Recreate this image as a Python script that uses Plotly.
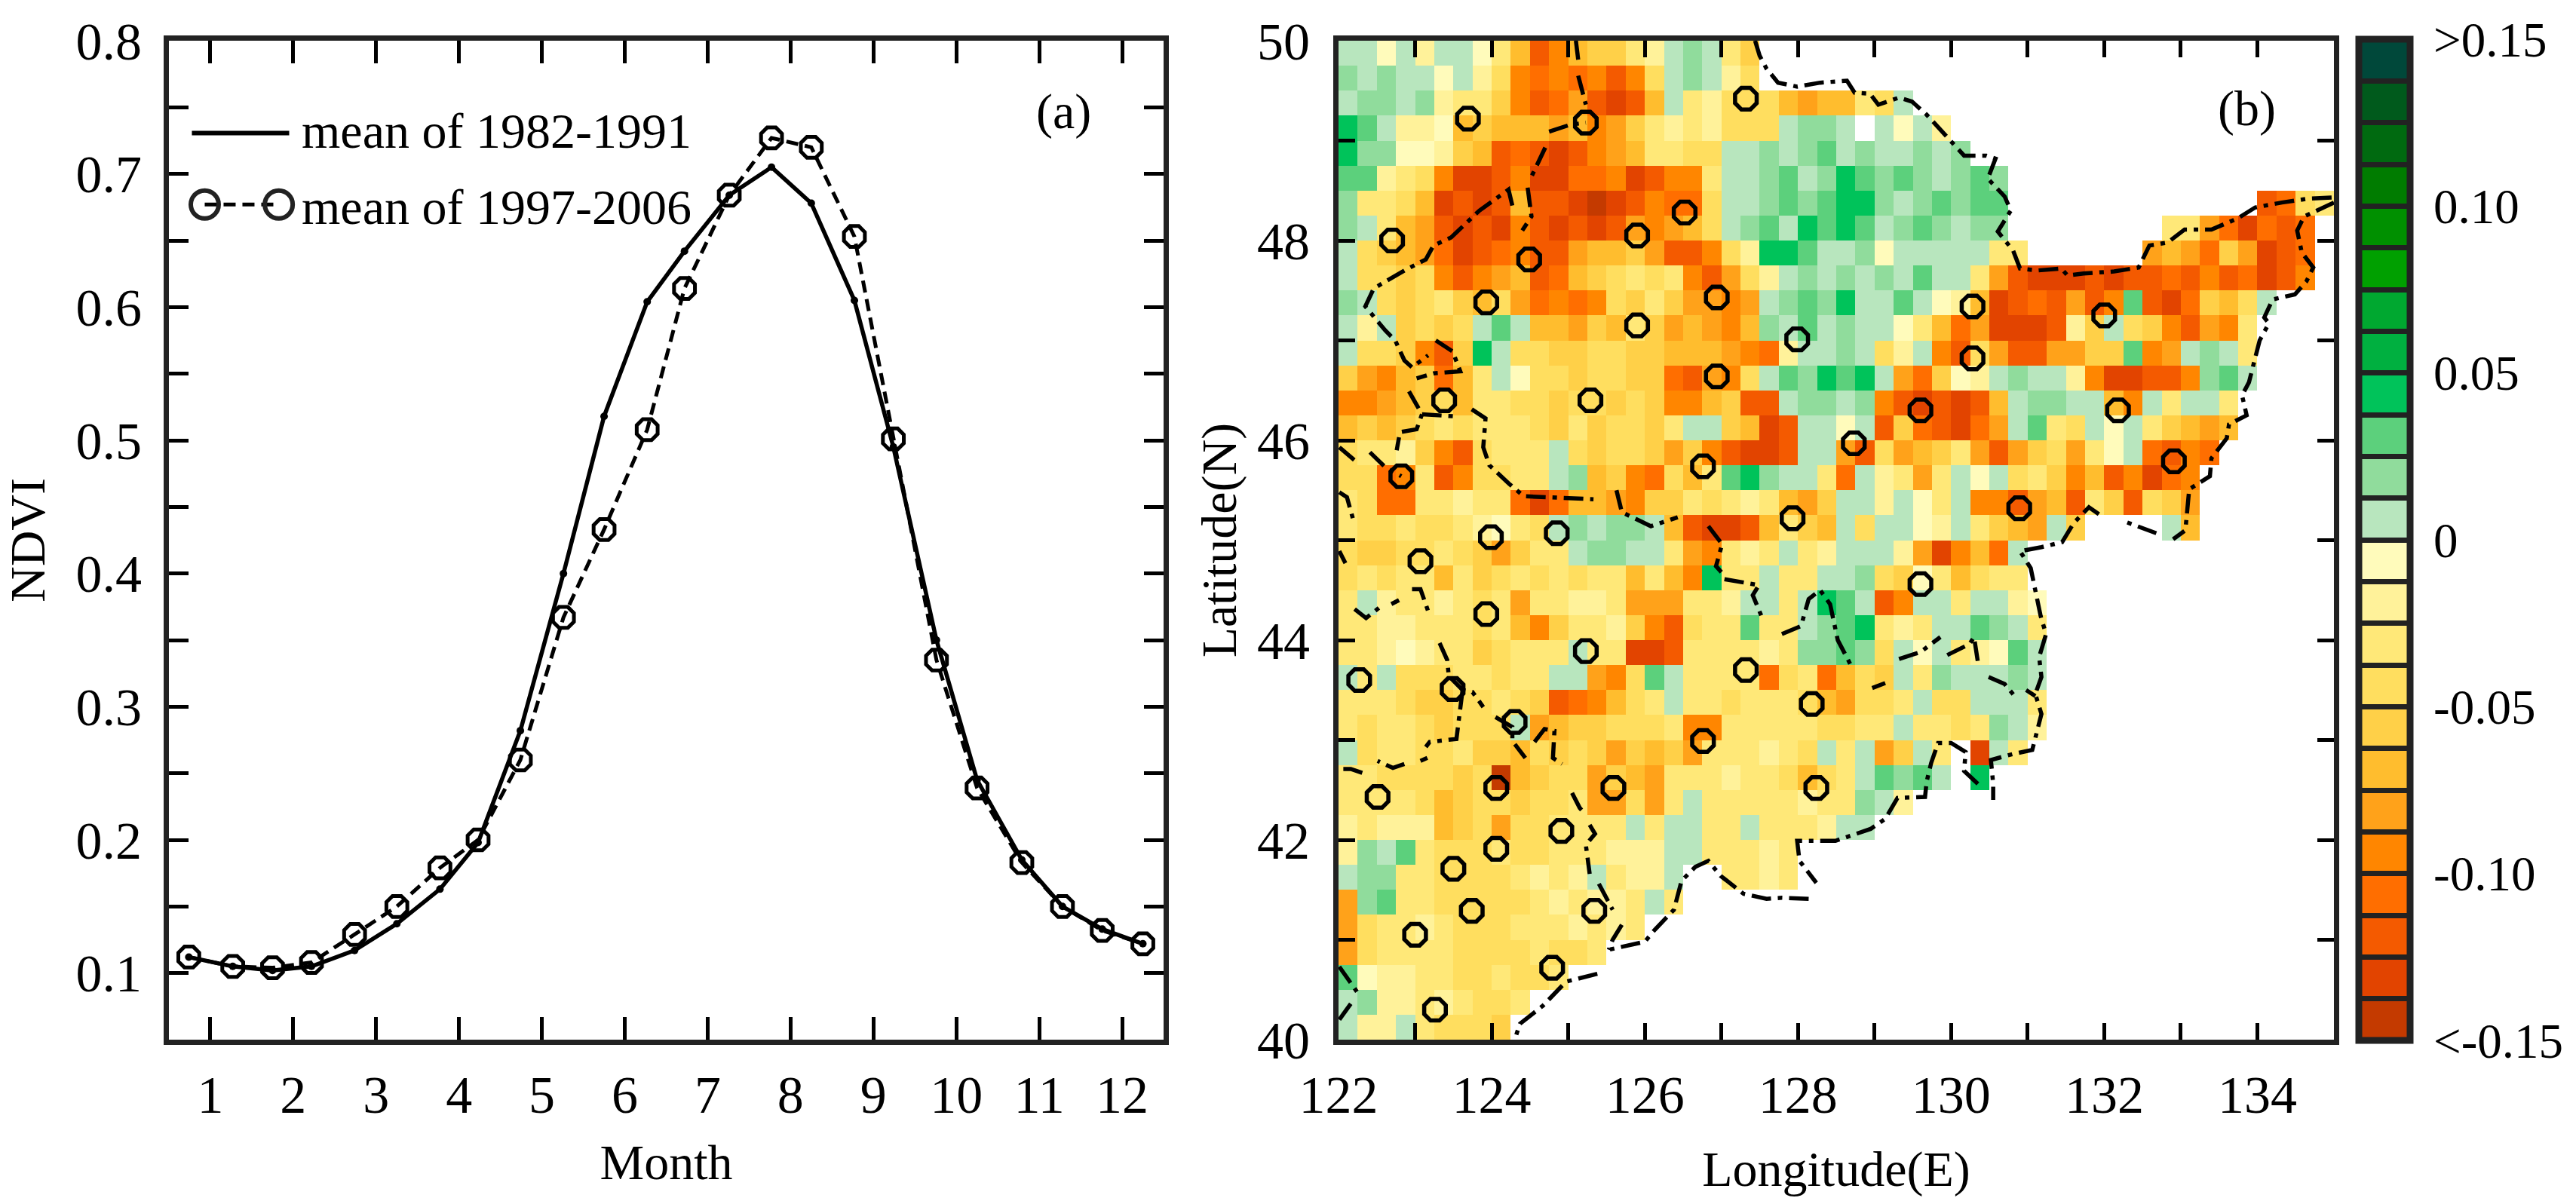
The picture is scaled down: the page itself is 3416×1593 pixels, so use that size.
import plotly.graph_objects as go

FONT = "Liberation Serif"
W, H = 3416, 1593

# ---------- panel (a) ----------
months_pts = [0.74,1.27,1.75,2.22,2.74,3.25,3.77,4.23,4.74,5.26,5.75,6.27,
              6.72,7.26,7.77,8.25,8.77,9.24,9.76,10.25,10.79,11.28,11.76,12.25]
ndvi_1982_1991 = [.112,.105,.102,.105,.117,.137,.163,.198,.282,.400,.518,.604,
                  .642,.684,.705,.678,.605,.495,.350,.245,.185,.150,.133,.122]
ndvi_1997_2006 = [.112,.105,.104,.108,.129,.150,.179,.200,.260,.367,.433,.508,
                  .614,.684,.727,.720,.653,.501,.335,.239,.183,.150,.132,.122]
month_ticks = list(range(1, 13))
ndvi_ticks = [0.05,0.1,0.15,0.2,0.25,0.3,0.35,0.4,0.45,0.5,0.55,0.6,0.65,0.7,0.75,0.8]
ndvi_labels = ["","0.1","","0.2","","0.3","","0.4","","0.5","","0.6","","0.7","","0.8"]

# ---------- panel (b): NDVI change class per 0.25 degree cell ----------
# '1'..'9','x','y','z' = warm classes, light to dark; 'a','b','c','d' = green classes; '.' = no data
WEST_ROWS = [
"aa1a2aa136x865532aba35......",
"babaa1a2489898x84aba24......",
"abbab23358x97xyx6a3244467663",
"dca2216566676875323" + "2444abba",
"dbb11256x9xyx8763344aababcab",
"cc2348yyx8yy998yx883aabcabdc",
"b3346yxyx6xxyzyx8994aabcbcdd",
"ba367xyxy8xyxyx78764abcadcdc",
"a45679yx98xx76657xx842ddcaab",
"a44548x876x96543438x742ababa",
"ba45435647" + "9898453577" + "87abcbda",
"a2a5454aca" + "6675635767" + "86bacaba",
"a4458x5da4" + "4554455666" + "7892aaba",
"57865963a1" + "44544559x7" + "84acbdcd",
"8876546334" + "4544545886" + "5xxabbab",
"6565434333" + "45354453aa" + "56yxaa1a",
"433258x433" + "3a45445758" + "xyyxaa7x",
"44983x8443" + "3ab6589463" + "cdbaa39a",
"3499332339" + "y966785534" + "323675aa",
"3443443213" + "4ababba6xy" + "yx6356a4",
"4554434575" + "33abbaa378" + "323a32aa",
"4343363543" + "434336368d" + "33a33aab",
"3a23323437" + "3322377733" + "2aa3adca",
"3322333436" + "8533258x43" + "3c33abcd",
"3321233543" + "33a33yyx33" + "3323bbcb",
"a3a4443343" + "3aa784ca33" + "33943964",
"3334554434" + "5x98643a33" + "43334674",
"343345444a" + "7655444388" + "33333443",
"a433443556" + "4545756573" + "33234a3a",
"33444454z6" + "5447567333" + "2334643a",
"3333465445" + "44377473a3" + "3333233b",
"2322265474" + "43333a3aa3" + "3a3332aa",
"2bac344434" + "4333222aa3" + "3323....",
"abb3344443" + "232a322a.." + "3323....",
"7bc3344444" + "323223a3",
"7433234443" + "332323",
"74333344443443",
"c12233443443",
"ab22323443",
"a22a34445",
]
EAST_ROWS = [
"", "", "4a", "a1a2", "aabab", "bcbabcb",
"babcbcc.............x943",
"abcbabb........3379y9x9",
"1aaaaa33......767957yx9",
"bacaa37xyyyxyxx9x8x9yx8",
"aca126yx9x7x8cxy9564a",
"a13697yyyx25a458x783",
"42a8x47xx7755c87aba3",
"a79512abaa28yyxx8bca",
"8xyxyx6abbaa68a3aa3",
"x59xy97ac34a1a35676",
"476537x754731a9x89",
"2373a1a43586x8y98",
"2a13a88x76x35x457",
"aa12a3567a5....a6",
"a27y869a", "45136433", "x8aa3aa21", "323aacba3", "4a1a321ca",
"5a3baaaba", "43a44aaa3", "3a3343ba2", "75a3.ya3", "cbca.d", "a2",
"", "", "", "", "", "", "", "", "",
]
lat_centers = [49.875 - 0.25 * i for i in range(40)]
lon_centers = [122.125 + 0.25 * i for i in range(52)]

warm_colors = ["#C43A00","#E24400","#F45A00","#FF6E00","#FF8600","#FFA21A",
               "#FFBD2E","#FFD048","#FFDE5F","#FFE878","#FFF29A","#FFFBBB"]
green_colors = ["#B8E6BE","#90DC9C","#5CD07C","#00C35A","#00B040","#00A830",
                "#00A000","#009000","#007C00","#006A10","#005A1C","#00483A"]
class_level = {"z":0,"y":1,"x":2,"9":3,"8":4,"7":5,"6":6,"5":7,"4":8,"3":9,"2":10,"1":11,
               "a":12,"b":13,"c":14,"d":15}

stations_lon = [123.69,125.23,127.32,122.70,126.52,125.90,124.49,123.93,126.94,125.90,127.99,126.94,
                123.38,125.29,122.82,126.76,128.73,127.93,123.99,124.85,123.07,123.93,125.23,127.32,
                122.27,123.49,128.18,124.30,126.76,124.06,122.51,125.59,128.24,124.91,124.06,123.50,
                123.74,125.34,123.00,124.79,123.26,130.28,132.00,130.28,129.60,132.18,132.91,130.89,129.60]
stations_lat = [49.22,49.18,49.42,48.00,48.28,48.05,47.81,47.38,47.43,47.15,47.01,46.64,
                46.40,46.40,45.64,45.74,45.97,45.22,45.03,45.07,44.79,44.26,43.89,43.70,
                43.60,43.51,43.36,43.18,42.99,42.52,42.43,42.52,42.52,42.09,41.91,41.71,
                41.29,41.29,41.05,40.72,40.30,47.34,47.25,46.82,46.30,46.30,45.79,45.32,44.56]

border_outer = [(127.44,50),(127.5,49.85),(127.59,49.72),(127.74,49.58),(127.99,49.54),(128.29,49.58),(128.64,49.6),
 (128.74,49.48),(128.94,49.47),(129.05,49.36),(129.32,49.43),(129.49,49.39),(129.68,49.26),(129.9,49.07),(130.17,48.85),
 (130.46,48.85),(130.58,48.82),(130.48,48.62),(130.7,48.44),(130.78,48.3),(130.61,48.09),(130.81,47.9),(130.9,47.72),
 (131.13,47.7),(131.44,47.72),(131.52,47.65),(131.73,47.67),(132.13,47.69),(132.45,47.73),(132.59,47.95),(132.83,47.98),
 (133.05,48.11),(133.4,48.11),(133.74,48.22),(133.97,48.33),(134.32,48.38),(134.67,48.42),(134.99,48.43),None,
 (135,48.38),(134.61,48.24),(134.52,48.1),(134.58,47.88),(134.73,47.73),(134.64,47.59),(134.49,47.46),(134.2,47.41),
 (134.09,47.23),(134.15,47.17),(134.03,47.0),(133.96,46.8),(133.89,46.58),(133.8,46.45),(133.86,46.25),(133.63,46.16),
 (133.6,46.02),(133.4,45.82),(133.38,45.64),(133.11,45.51),(133.07,45.2),(133.06,45.1),(132.9,45.01),None,
 (132.68,45.07),(132.22,45.2),None,(131.93,45.26),(131.8,45.33),(131.6,45.17),(131.45,44.98),(131.18,44.93),(130.9,44.89),
 (131.04,44.72),(131.1,44.5),(131.17,44.24),(131.24,44.06),(131.15,43.83),(131.18,43.63),(131.1,43.46),(131.18,43.26),
 (131.12,43.06),(131.06,42.9),(130.81,42.86),(130.52,42.8),(130.55,42.56),(130.55,42.4),None,(130.35,42.56),(130.17,42.69),
 (130.19,42.88),(130.0,42.97),(129.83,42.97),(129.74,42.77),(129.68,42.58),(129.66,42.43),(129.3,42.42),(129.14,42.21),
 (128.95,42.11),(128.49,41.99),(127.99,41.99),(128.02,41.79),(128.24,41.57),None,(128.14,41.41),(127.79,41.42),(127.59,41.41),
 (127.29,41.46),(126.99,41.64),(126.83,41.79),(126.66,41.73),(126.48,41.59),(126.38,41.3),(126.13,41.1),(126.0,40.98),
 (125.53,40.9),None,(125.38,40.66),(124.97,40.58),(124.67,40.34),(124.37,40.16),(124.3,40.0)]
border_inner = [(125.1,50),(125.13,49.81),None,(125.13,49.65),(125.23,49.36),None,(124.75,49.09),(125.03,49.16),(125.23,49.18),None,
 (124.7,48.93),(124.52,48.64),None,(124.47,48.53),(124.52,48.24),(124.4,48.1),None,(124.27,48.35),(124.22,48.51),(123.84,48.3),
 (123.67,48.17),(123.47,48.03),(123.24,47.95),(123.14,47.81),(122.86,47.7),(122.69,47.62),(122.46,47.52),(122.35,47.34),
 (122.61,47.1),(122.74,47.0),(122.86,46.8),(122.96,46.73),(123.17,46.85),None,(123.27,47.0),(123.49,46.89),(123.59,46.69),
 (123.24,46.67),(123.02,46.62),None,(122.92,46.49),(123.09,46.26),(123.02,46.11),(122.79,46.08),None,(122.79,46.03),(122.76,45.9),None,
 (123.09,46.26),(123.52,46.24),None,(123.74,46.31),(123.92,46.22),(123.89,45.93),(123.97,45.75),(124.22,45.57),(124.42,45.44),
 (125.33,45.41),None,(125.63,45.5),(125.7,45.28),(126.08,45.14),(126.43,45.23),None,(126.83,45.14),(127.01,44.96),(126.93,44.74),
 (127.0,44.68),None,(127.04,44.61),(127.49,44.55),(127.41,44.45),(127.54,44.21),None,(127.79,44.06),(128.04,44.14),(128.14,44.41),
 (128.29,44.5),(128.42,44.36),(128.52,44.0),(128.69,43.75),None,(128.77,43.55),None,(128.97,43.52),(129.14,43.57),None,
 (129.32,43.81),(129.6,43.88),(129.86,44.03),None,(129.95,43.85),(130.24,43.96),(130.3,44.03),(130.35,43.78),None,(130.49,43.63),
 (130.7,43.56),(130.84,43.43),None,(130.98,43.5),(131.1,43.44),None,
 (122.01,45.93),(122.21,45.8),None,(122.41,45.88),(122.61,45.73),(122.82,45.64),None,(122.01,45.48),(122.11,45.43),(122.19,45.21),None,
 (122.01,44.89),(122.09,44.77),None,(122.15,44.51),None,(122.21,44.31),(122.36,44.22),(122.59,44.36),None,(122.69,44.36),(122.79,44.4),None,
 (122.96,44.51),(123.07,44.51),(123.17,44.29),None,(123.29,44.16),None,(123.32,43.97),(123.42,43.8),(123.44,43.64),(123.62,43.5),
 (123.75,43.48),(123.89,43.33),None,(124.05,43.23),(124.27,43.13),(124.27,42.99),(124.44,42.82),None,(123.62,43.5),(123.54,43.01),
 (123.19,42.98),(123.14,42.93),None,(123.16,42.82),(123.07,42.79),None,(122.86,42.76),(122.71,42.72),(122.51,42.79),None,
 (122.31,42.67),(122.16,42.71),(122.01,42.71),None,(124.56,42.98),(124.69,43.11),(124.82,43.09),(124.8,42.82),(124.92,42.76),None,
 (124.97,42.6),None,(125.05,42.47),(125.15,42.32),(125.23,42.25),None,(125.28,42.15),(125.35,42.06),(125.23,41.95),(125.28,41.66),None,
 (125.4,41.56),(125.58,41.3),None,(125.7,41.15),(125.58,41.0),(125.53,40.9),None,(122.01,40.73),(122.24,40.48),None,(122.16,40.36),(122.01,40.2)]

lon_ticks = list(range(122, 136))
lon_labels = [str(v) if v % 2 == 0 else "" for v in lon_ticks]
lat_ticks = list(range(40, 51))
lat_labels = [str(v) if v % 2 == 0 else "" for v in lat_ticks]
class_edges = [-0.15 + 0.0125 * k for k in range(25)]
bar_labels = {0:"<-0.15",4:"-0.10",8:"-0.05",12:"0",16:"0.05",20:"0.10",24:">0.15"}

# ---------- build ----------
def split(pts):
    return ([p[0] if p else None for p in pts], [p[1] if p else None for p in pts])

z = []
for w, e in zip(WEST_ROWS, EAST_ROWS):
    row = (w.ljust(28, ".")[:28] + e).ljust(52, ".")[:52]
    z.append([None if ch == "." else -0.15 + 0.0125 * (class_level[ch] + 0.5) for ch in row])

palette = warm_colors + green_colors
colorscale = []
for k, c in enumerate(palette):
    colorscale += [[k / 24, c], [(k + 1) / 24, c]]

px = lambda v: v / W
py = lambda v: 1 - v / H
FRAME = "#222222"
axis_common = dict(showline=True, linecolor=FRAME, linewidth=7, mirror="ticks", ticks="inside",
                   tickcolor="#000000", tickwidth=5, showgrid=False, zeroline=False,
                   tickfont=dict(family=FONT, size=70, color="#000"))
title_font = dict(family=FONT, size=66, color="#000")

fig = go.Figure()
fig.add_trace(go.Scatter(x=months_pts, y=ndvi_1982_1991, mode="lines+markers", name="mean of 1982-1991",
                         line=dict(color="#000", width=5.5), marker=dict(symbol="circle", size=10, color="#000"),
                         xaxis="x", yaxis="y", showlegend=False))
fig.add_trace(go.Scatter(x=months_pts, y=ndvi_1997_2006, mode="lines+markers", name="mean of 1997-2006",
                         line=dict(color="#000", width=5, dash="16px,9px"),
                         marker=dict(symbol="octagon-open", size=30, color="#000", line=dict(width=5, color="#000")),
                         xaxis="x", yaxis="y", showlegend=False))
# legend keys
fig.add_trace(go.Scatter(x=[0.777, 1.951], y=[0.7306, 0.7306], mode="lines", line=dict(color="#000", width=6),
                         xaxis="x", yaxis="y", showlegend=False, hoverinfo="skip"))
fig.add_trace(go.Scatter(x=[0.932, 1.825], y=[0.677, 0.677], mode="lines+markers",
                         line=dict(color="#000", width=5, dash="16px,9px"),
                         marker=dict(symbol="circle-open", size=37, color="#222", line=dict(width=6, color="#222")),
                         xaxis="x", yaxis="y", showlegend=False, hoverinfo="skip"))

fig.add_trace(go.Heatmap(x=lon_centers, y=lat_centers, z=z, zmin=-0.15, zmax=0.15, colorscale=colorscale,
                         hoverongaps=False, xaxis="x2", yaxis="y2",
                         colorbar=dict(x=px(3128), xanchor="left", xpad=0, ypad=0, y=py(716), yanchor="middle",
                                       len=1328 / H, lenmode="fraction", thickness=68, thicknessmode="pixels",
                                       outlinewidth=9, outlinecolor=FRAME, ticks="inside", ticklen=68, tickwidth=7,
                                       tickcolor=FRAME, tickmode="array", tickvals=class_edges,
                                       ticktext=["\u2009" + bar_labels[k] if k in bar_labels else "" for k in range(25)],
                                       tickfont=dict(family=FONT, size=65, color="#000"))))
xo, yo = split(border_outer)
xi, yi = split(border_inner)
for xs, ys, nm in ((xo, yo, "outer border"), (xi, yi, "provincial borders")):
    fig.add_trace(go.Scatter(x=xs, y=ys, mode="lines", name=nm, line=dict(color="#000", width=5.5, dash="26px,9px,6px,9px"),
                             xaxis="x2", yaxis="y2", showlegend=False, hoverinfo="skip"))
fig.add_trace(go.Scatter(x=stations_lon, y=stations_lat, mode="markers", name="stations",
                         marker=dict(symbol="octagon-open", size=31, color="#000", line=dict(width=5.5, color="#000")),
                         xaxis="x2", yaxis="y2", showlegend=False))

ann = dict(showarrow=False, font=dict(family=FONT, size=66, color="#000"))
annotations = [
    dict(x=2.08, y=0.7325, xref="x", yref="y", text="mean of 1982-1991", xanchor="left", yanchor="middle", **ann),
    dict(x=2.08, y=0.675, xref="x", yref="y", text="mean of 1997-2006", xanchor="left", yanchor="middle", **ann),
    dict(x=11.29, y=0.747, xref="x", yref="y", text="(a)", xanchor="center", yanchor="middle", **ann),
    dict(x=133.86, y=49.32, xref="x2", yref="y2", text="(b)", xanchor="center", yanchor="middle", **ann),
]

fig.update_layout(
    width=W, height=H, autosize=False, margin=dict(l=0, r=0, t=0, b=0, autoexpand=False),
    paper_bgcolor="#fff", plot_bgcolor="#fff", annotations=annotations, showlegend=False,
    xaxis=dict(domain=[px(224), px(1543)], range=[0.5, 12.5], anchor="y", tickmode="array", tickvals=month_ticks,
               ticktext=[str(m) for m in month_ticks], ticklen=30, ticklabelstandoff=6,
               title=dict(text="Month", font=title_font, standoff=30), **axis_common),
    yaxis=dict(domain=[py(1379), py(54)], range=[0.05, 0.8], anchor="x", tickmode="array", tickvals=ndvi_ticks,
               ticktext=ndvi_labels, ticklen=26, ticklabelstandoff=15,
               title=dict(text="NDVI", font=title_font, standoff=39), **axis_common),
    xaxis2=dict(domain=[px(1775), px(3095)], range=[122, 135], anchor="y2", tickmode="array", tickvals=lon_ticks,
                ticktext=lon_labels, ticklen=22, ticklabelstandoff=6,
                title=dict(text="Longitude(E)", font=title_font, standoff=39), **axis_common),
    yaxis2=dict(domain=[py(1379), py(54)], range=[40, 50], anchor="x2", tickmode="array", tickvals=lat_ticks,
                ticktext=lat_labels, ticklen=22, ticklabelstandoff=17,
                title=dict(text="Latitude(N)", font=title_font, standoff=8), **axis_common),
)
fig.write_html("out.html", config={"displayModeBar": False}, post_script="document.body.style.margin='0';")
